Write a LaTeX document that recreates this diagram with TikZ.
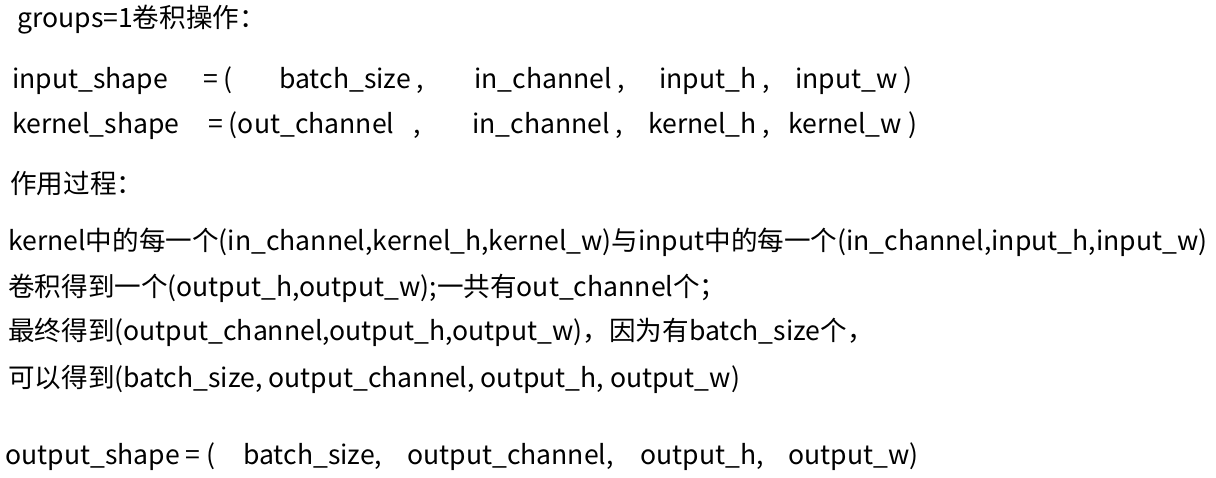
\documentclass[tikz,border=0pt]{standalone}
\usepackage{fontspec}
\newfontfamily\cjk{Noto Sans CJK SC}
\tikzset{txt/.style={anchor=base west, inner sep=0pt, font=\cjk\fontsize{18.9}{20}\selectfont}}
\begin{document}
\begin{tikzpicture}[x=0.025cm, y=-0.025cm]
\useasboundingbox (0,0) rectangle (1216,478);
\node[txt] (title) at (17,28) {groups=1卷积操作：};

% input / kernel shapes
\node[txt] (inname) at (12,89) {input\_shape};
\node[txt] (ineq) at (203,89) {= (};
\node[txt] (inbatch) at (279,89) {batch\_size ,};
\node[txt] (inch) at (474,89) {in\_channel ,};
\node[txt] (inh) at (659,89) {input\_h ,};
\node[txt] (inw) at (795,89) {input\_w )};

\node[txt] (kname) at (12,134) {kernel\_shape};
\node[txt] (keq) at (208,134) {= (out\_channel};
\node[txt] (kcomma) at (413,134) {,};
\node[txt] (kch) at (472,134) {in\_channel ,};
\node[txt] (kh) at (648,134) {kernel\_h ,};
\node[txt] (kw) at (788,134) {kernel\_w )};

% process
\node[txt] (proc) at (10,194) {作用过程：};
\node[txt] (l1) at (8,251) {kernel中的每一个(in\_channel,kernel\_h,kernel\_w)与input中的每一个(in\_channel,input\_h,input\_w)};
\node[txt] (l2) at (8,296) {卷积得到一个(output\_h,output\_w);一共有out\_channel个；};
\node[txt] (l3) at (8,341) {最终得到(output\_channel,output\_h,output\_w)，因为有batch\_size个，};
\node[txt] (l4) at (8,387) {可以得到(batch\_size, output\_channel, output\_h, output\_w)};

% output shape
\node[txt] (outname) at (5,464) {output\_shape = (};
\node[txt] (outbatch) at (243,464) {batch\_size,};
\node[txt] (outch) at (407,464) {output\_channel,};
\node[txt] (outh) at (640,464) {output\_h,};
\node[txt] (outw) at (788,464) {output\_w)};
\end{tikzpicture}
\end{document}
